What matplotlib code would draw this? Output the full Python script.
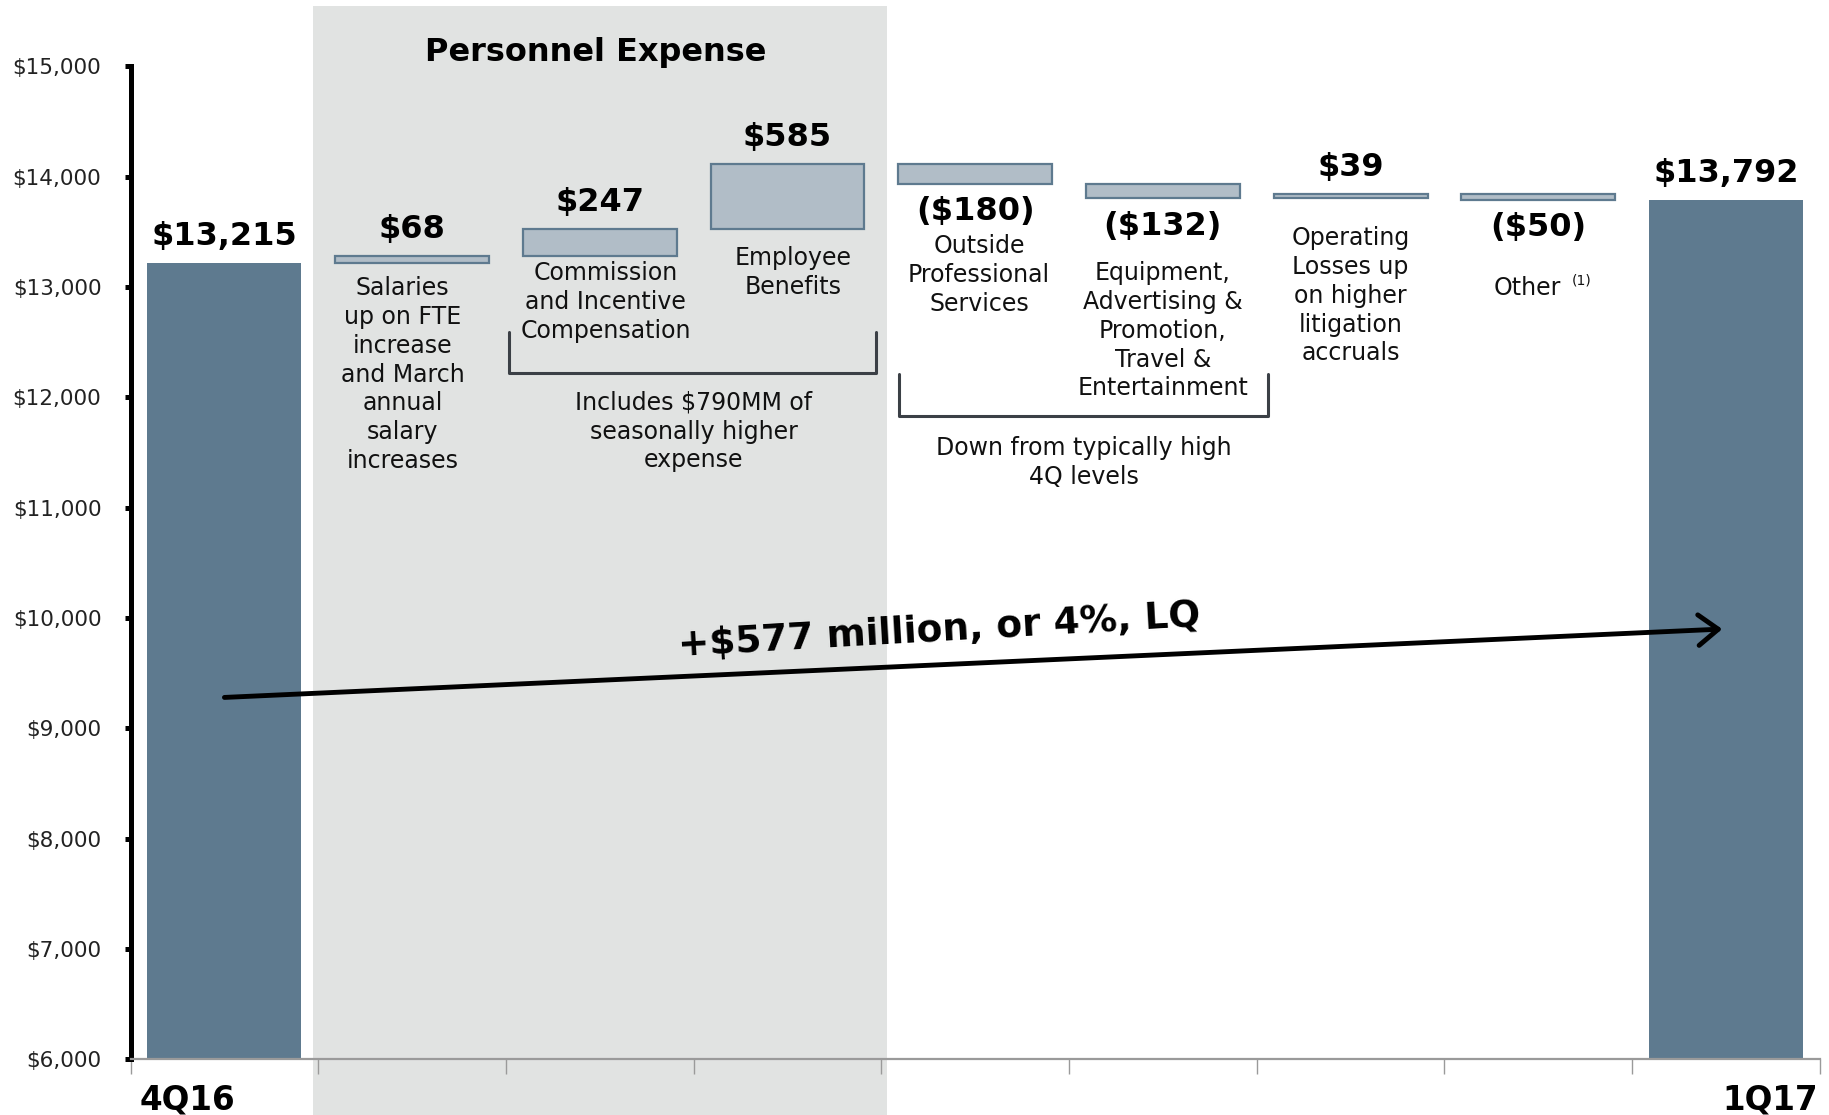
import numpy as np
import matplotlib
matplotlib.use('Agg')
import matplotlib.pyplot as plt
from matplotlib.patches import FancyArrowPatch

# Noninterest expense bridge, 4Q16 -> 1Q17 ($ millions)
start_total = 13215
end_total = 13792
changes = [68, 247, 585, -180, -132, 39, -50]
bar_labels = ['$13,215', '$68', '$247', '$585', '($180)', '($132)', '$39', '($50)', '$13,792']
period_names = ['4Q16', '1Q17']
descriptions = [
    'Salaries\nup on FTE\nincrease\nand March\nannual\nsalary\nincreases',
    'Commission\nand Incentive\nCompensation',
    'Employee\nBenefits',
    'Outside\nProfessional\nServices',
    'Equipment,\nAdvertising &\nPromotion,\nTravel &\nEntertainment',
    'Operating\nLosses up\non higher\nlitigation\naccruals',
    'Other',
]
y_ticks = list(range(6000, 15001, 1000))

# colours
total_color = '#5e7a8f'
delta_color = '#b1bdc7'
shade_color = '#e1e3e2'
text_color = '#111111'

# where the notes under the bars sit (x in category units, y = top of text)
desc_x = [0.95, 2.03, 3.03, 4.02, 5.0, 6.0, 6.94]
desc_y = [13096, 13234, 13371, 13477, 13234, 13551, 13096]

fig = plt.figure(figsize=(18.29, 11.15), dpi=100)
ax = fig.add_axes([0.0714, 0.050, 0.9236, 0.8904])

n = len(changes) + 2
x = np.arange(n)
levels = start_total + np.cumsum([0] + changes)
width = 0.82

# grey band behind the personnel items
ax.axvspan(0.47, 3.53, ymin=-0.056, ymax=1.061, color=shade_color, zorder=0, lw=0, clip_on=False)

# first and last totals
ax.bar([x[0], x[-1]], [start_total, end_total], width=width, color=total_color, zorder=2)

# floating change bars
bottoms = np.minimum(levels[:-1], levels[1:])
heights = np.abs(changes)
ax.bar(x[1:-1], heights, bottom=bottoms, width=width, color=delta_color,
       edgecolor=total_color, linewidth=1.6, zorder=2)

# value labels
tops = [start_total] + list(np.maximum(levels[:-1], levels[1:])) + [end_total]
lows = [start_total] + list(bottoms) + [end_total]
vals = [start_total] + changes + [end_total]
for i, lab in enumerate(bar_labels):
    if vals[i] >= 0:
        ax.annotate(lab, (x[i], tops[i]), xytext=(0, 19), textcoords='offset points',
                    ha='center', va='center', fontsize=23, fontweight='bold', color='black')
    else:
        ax.annotate(lab, (x[i], lows[i]), xytext=(0, -20), textcoords='offset points',
                    ha='center', va='center', fontsize=23, fontweight='bold', color='black')

# explanatory notes
for tx, ty, txt in zip(desc_x, desc_y, descriptions):
    ax.text(tx, ty, txt, ha='center', va='top', fontsize=17, color=text_color,
            linespacing=1.25)
ax.text(7.23, 13060, '(1)', ha='center', va='center', fontsize=10, color=text_color)

# brackets grouping items
def bracket(x0, x1, ytop, ybot):
    ax.plot([x0, x0, x1, x1], [ytop, ybot, ybot, ytop], color='#3b4046', lw=2.2,
            solid_joinstyle='round', solid_capstyle='round', zorder=3)

bracket(1.514, 3.47, 12589, 12219)
bracket(3.596, 5.56, 12208, 11827)
ax.text(2.50, 12060, 'Includes $790MM of\nseasonally higher\nexpense', ha='center', va='top',
        fontsize=17, color=text_color, linespacing=1.25)
ax.text(4.58, 11648, 'Down from typically high\n4Q levels', ha='center', va='top',
        fontsize=17, color=text_color, linespacing=1.25)

# section title
ax.text(1.98, 1.014, 'Personnel Expense', transform=ax.get_xaxis_transform(),
        ha='center', va='center', fontsize=23, fontweight='bold', color='black')

# overall change arrow
arrow = FancyArrowPatch((0.0, 9280), (7.98, 9900), arrowstyle='->,head_length=0.65,head_width=0.5',
                        mutation_scale=22, lw=3.5, color='black', shrinkA=0, shrinkB=0, zorder=4)
ax.add_patch(arrow)
ax.text(3.81, 9880, '+$577 million, or 4%, LQ', ha='center', va='center', rotation=3.3,
        rotation_mode='anchor', fontsize=27, fontweight='bold', color='black', zorder=5)

# axes
ax.set_xlim(-0.5, n - 0.5)
ax.set_ylim(6000, 15000)
ax.set_facecolor('none')
ax.set_yticks(y_ticks)
ax.set_yticklabels([f'${v:,}' for v in y_ticks], fontsize=15.5, color='#222222')
ax.tick_params(axis='y', direction='out', length=4, width=3.6, color='black', pad=17)
ax.set_xticks(np.arange(-0.5, n, 1))
ax.set_xticklabels([])
ax.tick_params(axis='x', direction='out', length=11, width=1, color='#9a9a9a')

for side in ['top', 'right']:
    ax.spines[side].set_visible(False)
ax.spines['left'].set_linewidth(3.6)
ax.spines['left'].set_color('black')
ax.spines['bottom'].set_linewidth(1.6)
ax.spines['bottom'].set_color('#9a9a9a')

# period names under the first and last bars
ax.text(-0.45, -0.041, period_names[0], transform=ax.get_xaxis_transform(), ha='left',
        va='center', fontsize=23.5, fontweight='bold', color='black')
ax.text(8.49, -0.041, period_names[1], transform=ax.get_xaxis_transform(), ha='right',
        va='center', fontsize=23.5, fontweight='bold', color='black')

fig.savefig('out.png', dpi=100)
